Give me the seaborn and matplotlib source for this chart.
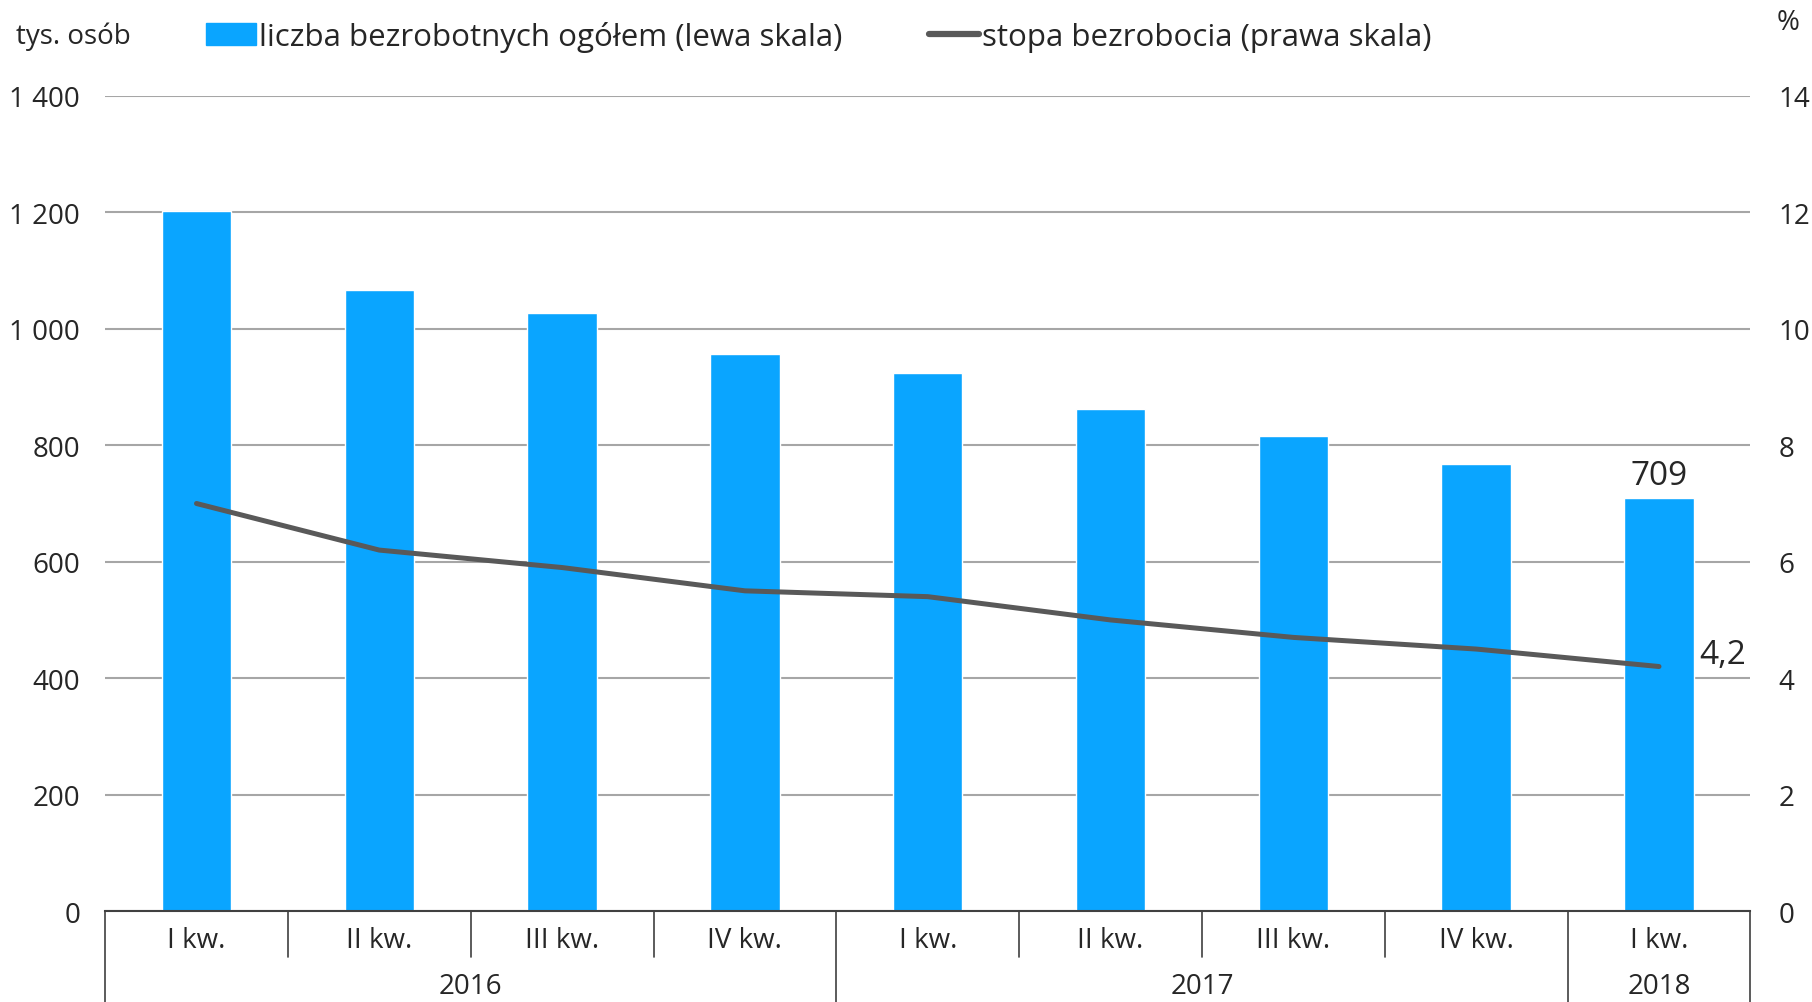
import seaborn as sns
import matplotlib.pyplot as plt
import matplotlib.transforms as mtransforms
from matplotlib.patches import Patch
from matplotlib.lines import Line2D
import pandas as pd
import numpy as np

# dane
okresy = ["2016 I", "2016 II", "2016 III", "2016 IV", "2017 I", "2017 II", "2017 III", "2017 IV", "2018 I"]
kwartaly = ["I kw.", "II kw.", "III kw.", "IV kw.", "I kw.", "II kw.", "III kw.", "IV kw.", "I kw."]
lata = ["2016", "2017", "2018"]
kwartaly_w_roku = [4, 4, 1]
bezrobotni = [1203, 1066, 1027, 957, 925, 862, 816, 768, 709]
stopa = [7.0, 6.2, 5.9, 5.5, 5.4, 5.0, 4.7, 4.5, 4.2]

df = pd.DataFrame({"okres": okresy, "bezrobotni": bezrobotni, "stopa": stopa})

sns.set_style("white")
plt.rcParams["font.family"] = ["Open Sans", "DejaVu Sans"]

niebieski = "#0AA5FF"
szary = "#595959"

fig = plt.figure(figsize=(18.12, 10.03), dpi=100)
ax = fig.add_axes([0.058, 0.0907, 0.908, 0.8126])

sns.barplot(data=df, x="okres", y="bezrobotni", color=niebieski, width=0.38,
            saturation=1, ax=ax, zorder=2)
ax.set_ylim(0, 1400)
ax.set_xlim(-0.5, len(okresy) - 0.5)
ax.set_yticks(range(0, 1401, 200))
ax.set_yticklabels([f"{v:,}".replace(",", " ") for v in range(0, 1401, 200)], fontsize=20)
ax.yaxis.grid(True, color="#A6A6A6", linewidth=1.5, zorder=0)
ax.set_axisbelow(True)
ax.tick_params(axis="y", length=0, pad=18)
ax.tick_params(axis="x", length=0, labelbottom=False)
ax.set_xlabel("")
ax.set_ylabel("")
for s in ["left", "right", "top"]:
    ax.spines[s].set_visible(False)
ax.spines["bottom"].set_color("#404040")
ax.spines["bottom"].set_linewidth(1.5)

# etykieta ostatniego slupka
ax.text(len(okresy) - 1, bezrobotni[-1] + 10, str(bezrobotni[-1]), ha="center", va="bottom", fontsize=24)

# prawa os
ax2 = ax.twinx()
sns.lineplot(x=np.arange(len(okresy)), y=df["stopa"], color=szary, linewidth=3.6, ax=ax2)
ax2.set_ylim(0, 14)
ax2.set_yticks(range(0, 15, 2))
ax2.set_yticklabels([str(v) for v in range(0, 15, 2)], fontsize=20)
ax2.tick_params(axis="y", length=0, pad=20)
ax2.set_ylabel("")
for s in ["left", "right", "top", "bottom"]:
    ax2.spines[s].set_visible(False)
ax2.text(len(okresy) - 1 + 0.22, stopa[-1] + 0.2, f"{stopa[-1]}".replace(".", ","),
         ha="left", va="center", fontsize=24)

# os kategorii (kwartaly i lata)
tr = mtransforms.blended_transform_factory(ax.transData, ax.transAxes)
for i, k in enumerate(kwartaly):
    ax.text(i, -0.036, k, transform=tr, ha="center", va="center", fontsize=20)
granice_lat = [-0.5]
for n in kwartaly_w_roku:
    granice_lat.append(granice_lat[-1] + n)
for i in range(len(okresy) + 1):
    x = i - 0.5
    dol = -0.1117 if x in granice_lat else -0.0564
    ax.plot([x, x], [0, dol], transform=tr, color="#404040", linewidth=1.2, clip_on=False)
for j, rok in enumerate(lata):
    srodek = (granice_lat[j] + granice_lat[j + 1]) / 2
    ax.text(srodek, -0.0915, rok, transform=tr, ha="center", va="center", fontsize=20)

# opisy osi
fig.text(0.009, 0.963, "tys. osób", ha="left", va="center", fontsize=20)
fig.text(0.987, 0.977, "%", ha="center", va="center", fontsize=20)

# legenda
uchwyty = [Patch(color=niebieski), Line2D([0], [0], color=szary, linewidth=4.5, solid_capstyle="round")]
etykiety = ["liczba bezrobotnych ogółem (lewa skala)", "stopa bezrobocia (prawa skala)"]
fig.legend(uchwyty, etykiety, loc="center left", bbox_to_anchor=(0.1135, 0.963), ncol=2,
           frameon=False, fontsize=22.5, handlelength=1.6, handletextpad=0.12,
           columnspacing=2.75, borderpad=0, borderaxespad=0)

plt.savefig("out.png", dpi=100)
